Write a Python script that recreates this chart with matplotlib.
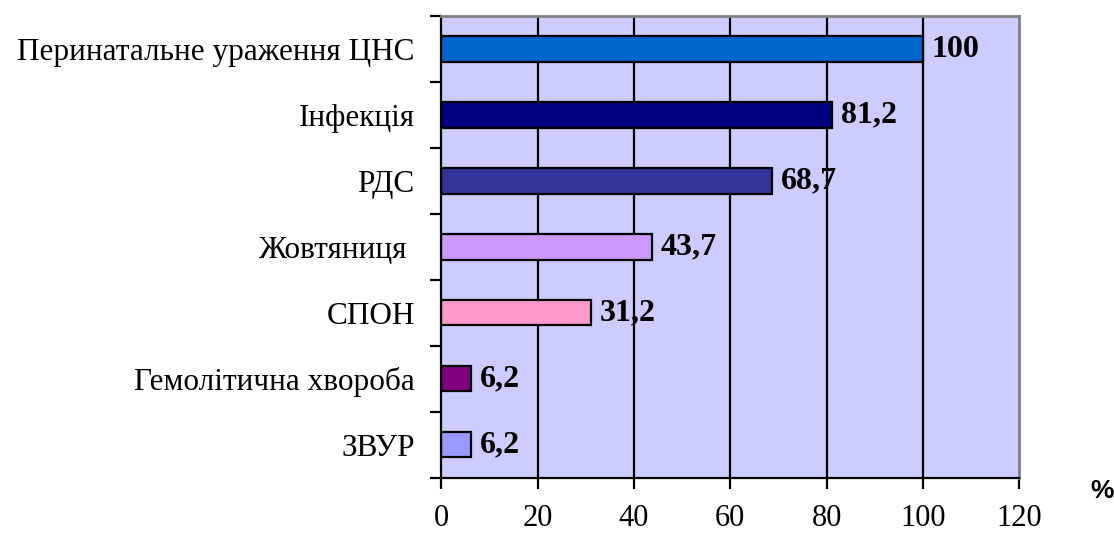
import matplotlib.pyplot as plt
import numpy as np

# diagnoses, top to bottom
labels = ["Перинатальне ураження ЦНС", "Інфекція", "РДС", "Жовтяниця ",
          "СПОН", "Гемолітична хвороба", "ЗВУР"]
values = [100, 81.2, 68.7, 43.7, 31.2, 6.2, 6.2]
value_text = ["100", "81,2", "68,7", "43,7", "31,2", "6,2", "6,2"]
colors = ["#0066CC", "#000080", "#333399", "#CC99FF", "#FF99CC", "#800080", "#9999FF"]
x_ticks = [0, 20, 40, 60, 80, 100, 120]

serif = "Liberation Serif"

fig = plt.figure(figsize=(11.14, 5.34), dpi=100)
ax = fig.add_axes([0.396, 0.105, 0.519, 0.865])
ax.set_facecolor("#CCCCFF")

n = len(labels)
ypos = np.arange(n)[::-1]  # first category at the top

ax.set_xlim(0, 120)
ax.set_ylim(-0.5, n - 0.5)

# vertical gridlines
for t in x_ticks[1:-1]:
    ax.axvline(t, color="black", lw=1.6, zorder=1)

ax.barh(ypos, values, height=0.38, color=colors, edgecolor="black",
        linewidth=1.6, zorder=2)

for y, v, s in zip(ypos, values, value_text):
    ax.text(v + 1.8, y, s, va="center", ha="left", fontsize=23,
            fontweight="bold", family=serif, zorder=3)

# category ticks sit between bars, labels at bar centres
ax.set_yticks(np.arange(-0.5, n, 1.0))
ax.set_yticklabels([])
ax.set_yticks(ypos, minor=True)
ax.set_yticklabels(labels, minor=True, family=serif, fontsize=22.5)
ax.tick_params(axis="y", which="major", direction="out", length=8, width=1.6)
ax.tick_params(axis="y", which="minor", length=0, pad=19)

ax.set_xticks(x_ticks)
ax.set_xticklabels([str(t) for t in x_ticks], family=serif, fontsize=22)
ax.tick_params(axis="x", direction="out", length=8, width=1.6, pad=11)

for side in ("left", "bottom"):
    ax.spines[side].set_color("black")
    ax.spines[side].set_linewidth(1.6)
for side in ("top", "right"):
    ax.spines[side].set_color("#808080")
    ax.spines[side].set_linewidth(2)

fig.text(0.989, 0.080, "%", ha="center", va="center", fontsize=19,
         fontweight="bold", family="Liberation Sans")

fig.savefig("out.png", dpi=100)
